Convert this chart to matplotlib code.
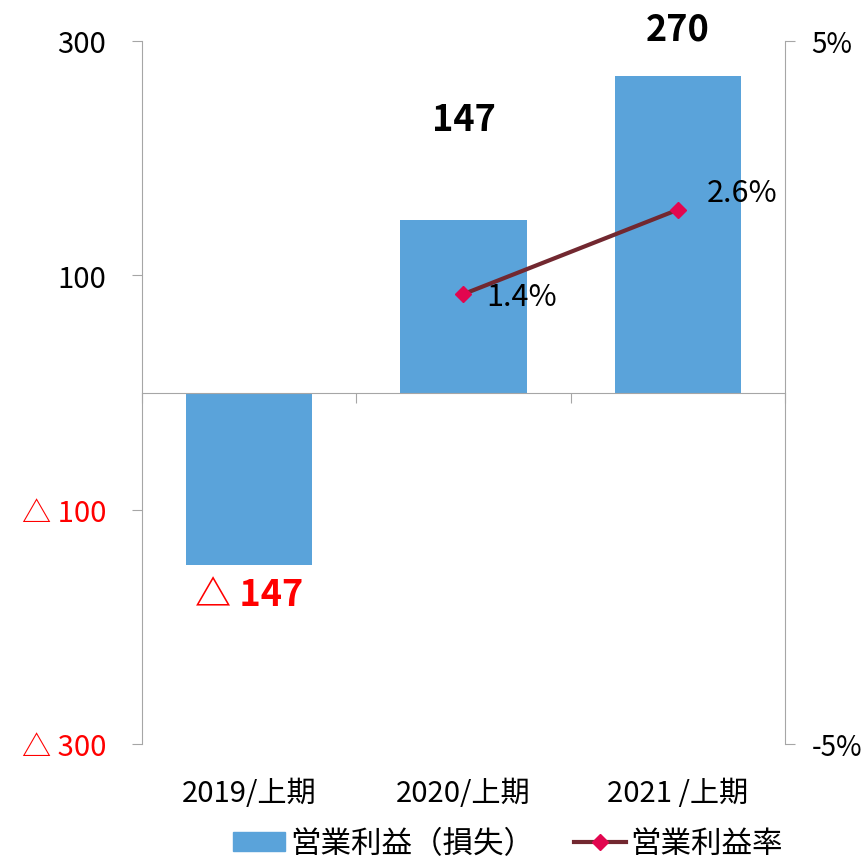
import matplotlib.pyplot as plt
import matplotlib.lines as mlines
import matplotlib.patches as mpatches

plt.rcParams['font.family'] = ['Noto Sans CJK JP', 'DejaVu Sans']

# データ
categories = ['2019/上期', '2020/上期', '2021 /上期']
profit = [-147, 147, 270]
profit_labels = ['△ 147', '147', '270']
margin_x = [1, 2]
margin = [1.4, 2.6]
margin_labels = ['1.4%', '2.6%']
left_ticks = [300, 100, -100, -300]
left_ticklabels = ['300', '100', '△ 100', '△ 300']
right_ticks = [5, -5]
right_ticklabels = ['5%', '-5%']

bar_color = '#5AA3DA'
line_color = '#722830'
marker_color = '#E2064F'
spine_color = '#A6A6A6'

fig = plt.figure(figsize=(8.64, 8.62), dpi=100)
ax = fig.add_axes([142 / 864, 1 - 745 / 862, 643 / 864, 703 / 862])

x = list(range(len(categories)))
ax.bar(x, profit, width=0.59, color=bar_color, zorder=2)
ax.set_xlim(-0.5, 2.5)
ax.set_ylim(-300, 300)

# 軸の見た目
for s in ['top', 'right']:
    ax.spines[s].set_visible(False)
ax.spines['left'].set_color(spine_color)
ax.spines['bottom'].set_color(spine_color)
ax.spines['bottom'].set_position(('data', 0))
ax.spines['bottom'].set_zorder(3)
ax.set_xticks([-0.5, 0.5, 1.5, 2.5])
ax.set_xticklabels([])
ax.tick_params(axis='x', length=7, color=spine_color, direction='out')
ax.set_yticks(left_ticks)
ax.set_yticklabels(left_ticklabels, fontsize=21)
ax.tick_params(axis='y', length=7, color=spine_color, pad=19)
for lab, v in zip(ax.get_yticklabels(), left_ticks):
    lab.set_color('red' if v < 0 else 'black')

# 棒のラベル
label_y = [-172, 233, 310]
for xi, ly, txt, v in zip(x, label_y, profit_labels, profit):
    ax.text(xi, ly, txt, ha='center', va='center', fontsize=26, fontweight='bold',
            color='red' if v < 0 else 'black', clip_on=False)

# カテゴリラベル
for xi, c in zip(x, categories):
    ax.text(xi, -342, c, ha='center', va='center', fontsize=21, clip_on=False)

# 右軸
ax2 = ax.twinx()
ax2.set_ylim(-5, 5)
for s in ['top', 'left', 'bottom']:
    ax2.spines[s].set_visible(False)
ax2.spines['right'].set_color(spine_color)
ax2.set_yticks(right_ticks)
ax2.set_yticklabels(right_ticklabels, fontsize=20)
ax2.tick_params(axis='y', length=7, color=spine_color, pad=12)
ax2.plot(margin_x, margin, color=line_color, lw=3, marker='D', ms=8,
         markerfacecolor=marker_color, markeredgecolor=marker_color, zorder=4)
ax2.text(1.27, 1.37, margin_labels[0], ha='center', va='center', fontsize=22)
ax2.text(2.30, 2.85, margin_labels[1], ha='center', va='center', fontsize=22)

# 凡例
h1 = mpatches.Patch(color=bar_color, label='営業利益（損失）')
h2 = mlines.Line2D([], [], color=line_color, lw=3, marker='D', ms=8,
                   markerfacecolor=marker_color, markeredgecolor=marker_color,
                   label='営業利益率')
fig.legend(handles=[h1, h2], loc='lower center', bbox_to_anchor=(0.588, -0.03),
           ncol=2, frameon=False, fontsize=22, handlelength=1.7,
           handleheight=0.55, handletextpad=0.15, columnspacing=1.3)

fig.savefig('out.png', dpi=100)
